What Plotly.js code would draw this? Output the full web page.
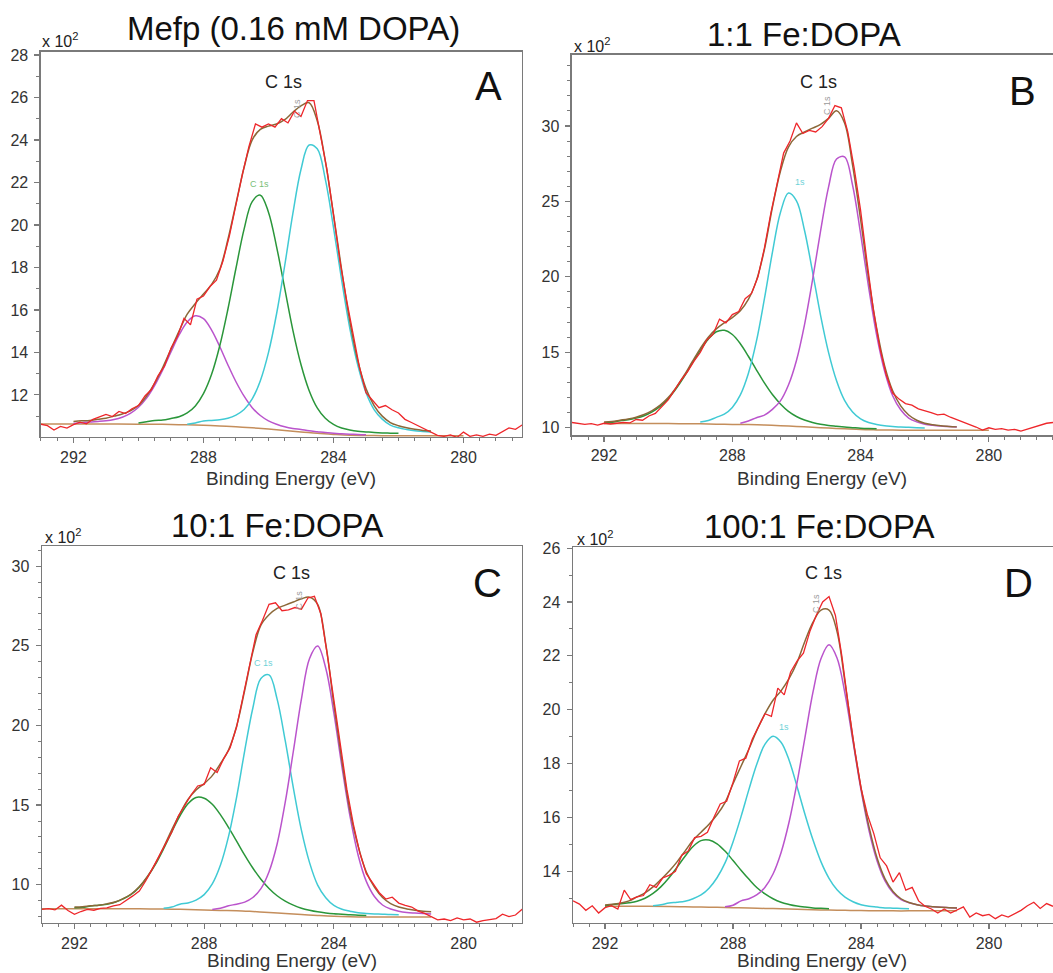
<!DOCTYPE html>
<html><head><meta charset="utf-8">
<script src="https://cdn.plot.ly/plotly-3.0.1.min.js"></script>
<style>html,body{margin:0;padding:0;background:#fff;}#chart{width:1053px;height:973px;}</style>
</head><body><div id="chart"></div>
<script>
// Binding energy grids (eV)
const energy = [293.0, 292.8, 292.6, 292.4, 292.2, 292.0, 291.8, 291.6, 291.4, 291.2,
  291.0, 290.8, 290.6, 290.4, 290.2, 290.0, 289.8, 289.6, 289.4, 289.2,
  289.0, 288.8, 288.6, 288.4, 288.2, 288.0, 287.8, 287.6, 287.4, 287.2,
  287.0, 286.8, 286.6, 286.4, 286.2, 286.0, 285.8, 285.6, 285.4, 285.2,
  285.0, 284.8, 284.6, 284.4, 284.2, 284.0, 283.8, 283.6, 283.4, 283.2,
  283.0, 282.8, 282.6, 282.4, 282.2, 282.0, 281.8, 281.6, 281.4, 281.2,
  281.0, 280.8, 280.6, 280.4, 280.2, 280.0, 279.8, 279.6, 279.4, 279.2,
  279.0, 278.8, 278.6, 278.4, 278.2, 278.0];
const fitEnergy = [292.0, 291.75, 291.5, 291.25, 291.0, 290.75, 290.5, 290.25, 290.0, 289.75,
  289.5, 289.25, 289.0, 288.75, 288.5, 288.25, 288.0, 287.75, 287.5, 287.25,
  287.0, 286.75, 286.5, 286.25, 286.0, 285.75, 285.5, 285.25, 285.0, 284.75,
  284.5, 284.25, 284.0, 283.75, 283.5, 283.25, 283.0, 282.75, 282.5, 282.25,
  282.0, 281.75, 281.5, 281.25, 281.0];
const bgEnergy = [293, 292, 291, 290, 289.5, 289, 288.5, 288, 287.5, 287, 286.5, 286,
  285.5, 285, 284.5, 284, 283.5, 283, 282.5, 282, 281, 280, 279, 278];

// ---- Panel A : Mefp (0.16 mM DOPA), counts x 10^2 ----
const rawA = [10.62, 10.55, 10.35, 10.52, 10.44, 10.6, 10.72, 10.64, 10.85, 10.98,
  11.08, 10.98, 11.22, 11.12, 11.35, 11.5, 11.95, 12.25, 12.9, 13.35,
  14.2, 14.75, 15.6, 15.3, 16.5, 16.65, 17.1, 17.4, 18.3, 19.5,
  21.0, 22.4, 23.7, 24.75, 24.6, 24.75, 24.6, 25.0, 24.8, 25.35,
  25.1, 25.85, 25.85, 24.3, 22.6, 20.5, 18.3, 16.5, 14.9, 13.3,
  12.1, 11.75, 11.4, 11.5, 11.3, 11.15, 10.85, 10.7, 10.55, 10.42,
  10.25, 10.1, 10.05, 10.12, 10.0, 10.25, 10.05, 10.12, 10.05, 10.15,
  10.1, 10.28, 10.45, 10.38, 10.58, 10.55];
const envA = [10.75, 10.78, 10.8, 10.85, 10.9, 11.0, 11.1, 11.25, 11.5, 11.95,
  12.55, 13.3, 14.15, 15.0, 15.8, 16.3, 16.75, 17.2, 17.9, 19.3,
  21.0, 22.7, 24.0, 24.5, 24.65, 24.75, 24.95, 25.3, 25.6, 25.75,
  24.9, 23.0, 20.5, 17.9, 15.5, 13.6, 12.3, 11.5, 11.0, 10.7,
  10.55, 10.45, 10.38, 10.33, 10.3];
const bgA = [10.63, 10.63, 10.63, 10.62, 10.62, 10.61, 10.59, 10.57, 10.54, 10.50, 10.45, 10.39,
  10.32, 10.26, 10.19, 10.14, 10.10, 10.09, 10.08, 10.08, 10.08, 10.08, null, null];
const pk1A = [10.66, 10.69, 10.73, 10.75, 10.78, 10.84, 10.95, 11.13, 11.42, 11.85,
  12.45, 13.19, 14.02, 14.82, 15.43, 15.72, 15.59, 15.05, 14.28, 13.42,
  12.62, 11.94, 11.40, 11.03, 10.78, 10.62, 10.50, 10.42, 10.37, 10.31,
  10.27, 10.23, 10.20, 10.17, 10.15, 10.14, 10.12, null, null, null,
  null, null, null, null, null];
const pk2A = [null, null, null, null, null, null, null, null, 10.68, 10.74,
  10.80, 10.82, 10.89, 10.97, 11.15, 11.48, 12.06, 12.97, 14.30, 16.02,
  17.96, 19.80, 21.10, 21.40, 20.60, 18.97, 17.01, 15.05, 13.43, 12.21,
  11.39, 10.90, 10.61, 10.44, 10.35, 10.29, 10.26, 10.23, 10.21, 10.20,
  10.19, null, null, null, null];
const pk3A = [null, null, null, null, null, null, null, null, null, null,
  null, null, null, null, 10.62, 10.68, 10.77, 10.80, 10.83, 10.90,
  11.05, 11.31, 11.81, 12.67, 13.99, 15.82, 18.09, 20.53, 22.61, 23.76,
  23.58, 22.14, 19.89, 17.42, 15.16, 13.39, 12.11, 11.31, 10.86, 10.58,
  10.45, 10.37, 10.31, 10.28, 10.25];

// ---- Panel B : 1:1 Fe:DOPA ----
const rawB = [10.35, 10.3, 10.22, 10.28, 10.18, 10.3, 10.25, 10.3, 10.36, 10.32,
  10.55, 10.5, 10.78, 10.95, 11.4, 11.85, 12.5, 13.15, 13.7, 14.4,
  15.0, 15.8, 16.2, 17.2, 16.95, 17.5, 17.7, 18.55, 18.9, 20.0,
  21.9, 24.2, 26.2, 28.2, 29.0, 30.2, 29.5, 29.7, 29.6, 29.95,
  30.5, 31.35, 31.2, 29.6, 27.2, 24.4, 21.0, 17.8, 15.3, 13.5,
  12.3, 11.9, 11.6, 11.5, 11.25, 11.15, 11.0, 10.85, 10.9, 10.7,
  10.55, 10.35, 10.2, 10.05, 9.85, 10.0, 9.9, 9.95, 9.85, 9.9,
  9.78, 9.9, 10.05, 10.15, 10.3, 10.35];
const envB = [10.38, 10.42, 10.5, 10.58, 10.7, 10.88, 11.14, 11.5, 12.0, 12.68,
  13.48, 14.38, 15.25, 16.0, 16.55, 16.95, 17.3, 17.75, 18.5, 19.75,
  21.8, 24.6, 27.0, 28.6, 29.3, 29.6, 29.85, 30.1, 30.5, 31.0,
  30.2, 27.4, 23.8, 19.9, 16.6, 14.1, 12.45, 11.45, 10.85, 10.5,
  10.3, 10.2, 10.13, 10.09, 10.06];
const bgB = [null, 10.28, 10.28, 10.28, 10.27, 10.26, 10.24, 10.22, 10.21, 10.18, 10.14, 10.09,
  10.04, 9.98, 9.93, 9.88, 9.86, 9.85, 9.84, 9.84, 9.84, 9.84, null, null];
const pk1B = [10.32, 10.36, 10.47, 10.53, 10.64, 10.80, 11.06, 11.42, 11.93, 12.60,
  13.39, 14.28, 15.13, 15.87, 16.36, 16.46, 16.18, 15.57, 14.74, 13.84,
  12.97, 12.20, 11.58, 11.09, 10.75, 10.52, 10.35, 10.23, 10.15, 10.10,
  10.05, 10.01, 9.97, 9.95, 9.94, null, null, null, null, null,
  null, null, null, null, null];
const pk2B = [null, null, null, null, null, null, null, null, null, null,
  null, null, 10.38, 10.48, 10.69, 10.90, 11.35, 12.18, 13.60, 15.72,
  18.54, 21.62, 24.26, 25.55, 25.04, 23.09, 20.35, 17.47, 15.0, 13.12,
  11.82, 11.05, 10.59, 10.35, 10.22, 10.13, 10.09, 10.05, 10.03, 10.01,
  9.99, null, null, null, null];
const pk3B = [null, null, null, null, null, null, null, null, null, null,
  null, null, null, null, null, null, null, 10.30, 10.45, 10.67,
  10.84, 11.22, 11.78, 12.83, 14.46, 16.82, 19.78, 23.01, 25.94, 27.81,
  27.95, 26.07, 22.86, 19.32, 16.14, 13.74, 12.12, 11.19, 10.64, 10.39,
  10.24, 10.16, 10.11, 10.08, 10.05];

// ---- Panel C : 10:1 Fe:DOPA ----
const rawC = [8.45, 8.5, 8.42, 8.72, 8.38, 8.15, 8.32, 8.45, 8.4, 8.52,
  8.55, 8.68, 8.75, 9.0, 9.3, 9.6, 10.25, 11.0, 11.75, 12.55,
  13.3, 14.3, 14.95, 15.65, 16.2, 16.3, 17.35, 17.05, 17.9, 18.6,
  19.9, 21.8, 23.8, 25.7, 26.6, 27.6, 27.7, 27.2, 27.25, 27.4,
  27.3, 28.0, 28.1, 27.0, 24.4, 21.5, 18.6, 16.0, 13.8, 12.0,
  10.7, 10.1, 9.5, 9.1, 9.22, 8.85, 8.7, 8.6, 8.35, 8.2,
  7.98, 7.8, 7.85, 7.75, 7.92, 7.8, 7.85, 7.65, 7.75, 7.8,
  7.88, 8.15, 8.0, 8.1, 8.45, 8.5];
const envC = [8.6, 8.62, 8.68, 8.72, 8.8, 8.92, 9.13, 9.42, 9.88, 10.52,
  11.33, 12.35, 13.45, 14.45, 15.35, 15.95, 16.35, 16.85, 17.6, 18.45,
  19.95, 22.2, 24.6, 26.3, 26.95, 27.35, 27.55, 27.75, 27.95, 28.05,
  27.6, 25.1, 21.3, 17.75, 14.6, 12.4, 10.8, 9.85, 9.2, 8.82,
  8.6, 8.48, 8.4, 8.34, 8.3];
const bgC = [8.5, 8.5, 8.5, 8.49, 8.48, 8.47, 8.45, 8.42, 8.39, 8.37, 8.32, 8.26,
  8.20, 8.13, 8.07, 8.02, 7.99, 7.975, 7.97, 7.97, 7.97, null, null, null];
const pk1C = [8.55, 8.58, 8.67, 8.71, 8.78, 8.90, 9.11, 9.39, 9.85, 10.49,
  11.29, 12.26, 13.32, 14.31, 15.08, 15.48, 15.43, 15.05, 14.40, 13.60,
  12.74, 11.86, 11.05, 10.35, 9.77, 9.31, 8.97, 8.72, 8.53, 8.40,
  8.30, 8.23, 8.18, 8.15, 8.11, 8.09, 8.07, null, null, null,
  null, null, null, null, null];
const pk2C = [null, null, null, null, null, null, null, null, null, null,
  null, 8.52, 8.6, 8.78, 8.86, 9.04, 9.38, 10.05, 11.22, 13.02,
  15.49, 18.41, 21.08, 22.94, 23.17, 21.65, 19.04, 16.08, 13.41, 11.39,
  9.98, 9.18, 8.70, 8.46, 8.34, 8.24, 8.2, 8.17, 8.15, 8.13,
  8.12, null, null, null, null];
const pk3C = [null, null, null, null, null, null, null, null, null, null,
  null, null, null, null, null, null, null, 8.45, 8.52, 8.68,
  8.78, 8.91, 9.20, 9.76, 10.82, 12.56, 15.18, 18.38, 21.67, 24.2,
  24.98, 23.59, 20.77, 17.39, 14.27, 11.84, 10.21, 9.26, 8.73, 8.48,
  8.34, 8.26, 8.22, 8.19, 8.16];

// ---- Panel D : 100:1 Fe:DOPA ----
const rawD = [12.9, 12.78, 12.55, 12.72, 12.45, 12.65, 12.72, 12.6, 13.3, 12.95,
  13.05, 13.1, 13.5, 13.4, 13.75, 13.85, 14.0, 14.6, 14.75, 15.25,
  15.3, 15.45, 16.0, 16.5, 16.6, 17.3, 18.1, 18.2, 18.9, 19.4,
  19.85, 19.75, 20.8, 20.55, 21.4, 21.8, 22.1, 22.9, 23.5, 24.0,
  24.2, 23.5, 22.0, 20.2, 18.55, 17.1, 16.1, 15.4, 14.5, 14.2,
  13.6, 13.95, 13.3, 13.4, 12.9, 12.7, 12.6, 12.45, 12.6, 12.45,
  12.55, 12.68, 12.3, 12.45, 12.35, 12.4, 12.24, 12.38, 12.3, 12.42,
  12.55, 12.72, 12.85, 12.62, 12.8, 12.7];
const envD = [12.75, 12.78, 12.82, 12.9, 13.05, 13.2, 13.42, 13.7, 14.0, 14.35,
  14.75, 15.15, 15.45, 15.75, 16.1, 16.55, 17.25, 17.9, 18.55, 19.25,
  19.85, 20.35, 20.7, 21.15, 21.75, 22.55, 23.25, 23.7, 23.7, 22.9,
  21.0, 18.9, 17.1, 15.65, 14.5, 13.72, 13.25, 12.98, 12.84, 12.76,
  12.71, 12.68, 12.66, 12.65, 12.64];
const bgD = [null, 12.7, 12.7, 12.69, 12.68, 12.67, 12.66, 12.65, 12.64, 12.62, 12.61, 12.59,
  12.57, 12.56, 12.55, 12.54, 12.535, 12.53, 12.53, 12.53, 12.53, null, null, null];
const pk1D = [12.71, 12.77, 12.79, 12.83, 12.89, 13.0, 13.18, 13.43, 13.76, 14.15,
  14.56, 14.92, 15.14, 15.16, 15.02, 14.75, 14.40, 14.04, 13.70, 13.39,
  13.16, 12.98, 12.85, 12.77, 12.71, 12.67, 12.64, 12.625, 12.61, null,
  null, null, null, null, null, null, null, null, null, null,
  null, null, null, null, null];
const pk2D = [null, null, null, null, null, null, 12.72, 12.76, 12.82, 12.85,
  12.89, 12.98, 13.12, 13.37, 13.76, 14.31, 15.09, 16.03, 17.05, 18.0,
  18.72, 19.01, 18.79, 18.13, 17.15, 16.11, 15.16, 14.35, 13.74, 13.31,
  13.04, 12.87, 12.76, 12.70, 12.67, 12.64, 12.63, 12.62, 12.61, null,
  null, null, null, null, null];
const pk3D = [null, null, null, null, null, null, null, null, null, null,
  null, null, null, null, null, 12.68, 12.74, 12.90, 12.98, 13.13,
  13.41, 13.90, 14.69, 15.82, 17.29, 18.98, 20.66, 21.90, 22.41, 21.92,
  20.59, 18.81, 17.02, 15.51, 14.39, 13.64, 13.20, 12.95, 12.83, 12.76,
  12.71, 12.68, 12.66, 12.65, 12.64];

// Text
const panelTitles = ['Mefp (0.16 mM DOPA)', '1:1 Fe:DOPA', '10:1 Fe:DOPA', '100:1 Fe:DOPA'];
const panelLetters = ['A', 'B', 'C', 'D'];
const xTitle = 'Binding Energy (eV)';
const regionLabel = 'C 1s';

const COL = {
  raw: 'rgb(238,38,42)', env: 'rgb(139,104,56)', bg: 'rgb(196,142,92)',
  mag: 'rgb(186,84,204)', grn: 'rgb(42,150,58)', cyn: 'rgb(64,202,212)'
};

const panels = [
  {raw: rawA, env: envA, bg: bgA, comps: [[pk1A, COL.mag], [pk2A, COL.grn], [pk3A, COL.cyn]], xa: 'x', ya: 'y'},
  {raw: rawB, env: envB, bg: bgB, comps: [[pk1B, COL.grn], [pk2B, COL.cyn], [pk3B, COL.mag]], xa: 'x2', ya: 'y2'},
  {raw: rawC, env: envC, bg: bgC, comps: [[pk1C, COL.grn], [pk2C, COL.cyn], [pk3C, COL.mag]], xa: 'x3', ya: 'y3'},
  {raw: rawD, env: envD, bg: bgD, comps: [[pk1D, COL.grn], [pk2D, COL.cyn], [pk3D, COL.mag]], xa: 'x4', ya: 'y4'}
];

const traces = [];
panels.forEach(p => {
  traces.push({x: bgEnergy, y: p.bg, xaxis: p.xa, yaxis: p.ya, mode: 'lines',
    line: {color: COL.bg, width: 1.5, shape: 'spline'}, hoverinfo: 'skip'});
  p.comps.forEach(c => {
    traces.push({x: fitEnergy, y: c[0], xaxis: p.xa, yaxis: p.ya, mode: 'lines',
      line: {color: c[1], width: 1.5, shape: 'spline'}, hoverinfo: 'skip'});
  });
  traces.push({x: fitEnergy, y: p.env, xaxis: p.xa, yaxis: p.ya, mode: 'lines',
    line: {color: COL.env, width: 1.5, shape: 'spline'}, hoverinfo: 'skip'});
  traces.push({x: energy, y: p.raw, xaxis: p.xa, yaxis: p.ya, mode: 'lines',
    line: {color: COL.raw, width: 1.3}, hoverinfo: 'skip'});
});

const FONT = 'Liberation Sans, Arial, Helvetica, sans-serif';
const AXC = '#7a7a7a';
function xAx(domain, range, anchor) {
  return {domain: domain, range: range, anchor: anchor, showline: true, linecolor: AXC, linewidth: 1.5,
    mirror: true, ticks: 'outside', ticklen: 5, tickwidth: 1.2, tickcolor: AXC,
    tick0: 0, dtick: 4, showgrid: false, zeroline: false,
    tickfont: {family: FONT, size: 16, color: '#333'},
    minor: {dtick: 0.5, ticks: 'outside', ticklen: 3, tickwidth: 1, tickcolor: AXC, showgrid: false}};
}
function yAx(domain, range, anchor, dt) {
  return {domain: domain, range: range, anchor: anchor, showline: true, linecolor: AXC, linewidth: 1.5,
    mirror: true, ticks: 'outside', ticklen: 5, tickwidth: 1.2, tickcolor: AXC,
    tick0: 0, dtick: dt, showgrid: false, zeroline: false, ticklabelstandoff: 3,
    tickfont: {family: FONT, size: 16, color: '#333'},
    minor: {dtick: 1, ticks: 'outside', ticklen: 3, tickwidth: 1, tickcolor: AXC, showgrid: false}};
}

const ann = [];
function txt(x, y, text, size, color, extra) {
  ann.push(Object.assign({xref: 'paper', yref: 'paper', x: x, y: y, text: text, showarrow: false,
    xanchor: 'center', yanchor: 'middle', font: {family: FONT, size: size, color: color}}, extra || {}));
}
// panel titles
txt(0.279, 0.971, panelTitles[0], 33, '#111');
txt(0.764, 0.965, panelTitles[1], 33, '#111');
txt(0.2628, 0.4596, panelTitles[2], 33, '#111');
txt(0.778, 0.4594, panelTitles[3], 33, '#111');
// multipliers
const mult = 'x 10<sup>2</sup>';
txt(0.038, 0.959, mult, 16, '#222', {xanchor: 'left'});
txt(0.5432, 0.9537, mult, 16, '#222', {xanchor: 'left'});
txt(0.0408, 0.4496, mult, 16, '#222', {xanchor: 'left'});
txt(0.546, 0.4466, mult, 16, '#222', {xanchor: 'left'});
// region labels
txt(0.2697, 0.916, regionLabel, 18, '#222');
txt(0.7775, 0.9154, regionLabel, 18, '#222');
txt(0.2766, 0.4108, regionLabel, 18, '#222');
txt(0.7816, 0.4108, regionLabel, 18, '#222');
// letters
txt(0.4639, 0.9121, panelLetters[0], 40, '#111');
txt(0.971, 0.9067, panelLetters[1], 40, '#111');
txt(0.4625, 0.4013, panelLetters[2], 40, '#111');
txt(0.9677, 0.4006, panelLetters[3], 40, '#111');
// x titles
txt(0.2764, 0.5082, xTitle, 19, '#333');
txt(0.7803, 0.5087, xTitle, 19, '#333');
txt(0.277, 0.0125, xTitle, 19, '#333');
txt(0.7803, 0.0125, xTitle, 19, '#333');
// small component tags
txt(0.246, 0.8109, 'C 1s', 9, 'rgb(120,190,120)');
txt(0.7597, 0.8129, '1s', 9, 'rgb(110,210,215)');
txt(0.2498, 0.3186, 'C 1s', 9, 'rgb(110,210,215)');
txt(0.7445, 0.2528, '1s', 9, 'rgb(110,210,215)');
txt(0.282, 0.889, 'C 1s', 9, '#9a9a9a', {textangle: -90});
txt(0.7854, 0.891, 'C 1s', 9, '#9a9a9a', {textangle: -90});
txt(0.2837, 0.3834, 'C 1s', 9, '#9a9a9a', {textangle: -90});
txt(0.7749, 0.3803, 'C 1s', 9, '#9a9a9a', {textangle: -90});

const layout = {
  width: 1053, height: 973, margin: {l: 0, r: 0, t: 0, b: 0},
  paper_bgcolor: '#fff', plot_bgcolor: '#fff', showlegend: false,
  font: {family: FONT},
  xaxis: xAx([0.0389, 0.4957], [293, 278.2], 'y'),
  yaxis: yAx([0.5509, 0.9466], [10.02, 28.14], 'x', 2),
  xaxis2: xAx([0.5432, 1.0], [293, 278.0], 'y2'),
  yaxis2: yAx([0.5529, 0.9435], [9.52, 34.7], 'x2', 5),
  xaxis3: xAx([0.0399, 0.4957], [293, 278.2], 'y3'),
  yaxis3: yAx([0.0514, 0.4388], [7.6, 31.26], 'x3', 5),
  xaxis4: xAx([0.5442, 1.0], [293, 278.0], 'y4'),
  yaxis4: yAx([0.0514, 0.4378], [12.08, 26.04], 'x4', 2),
  annotations: ann
};

Plotly.newPlot('chart', traces, layout, {displayModeBar: false, staticPlot: true});
</script>
</body></html>
